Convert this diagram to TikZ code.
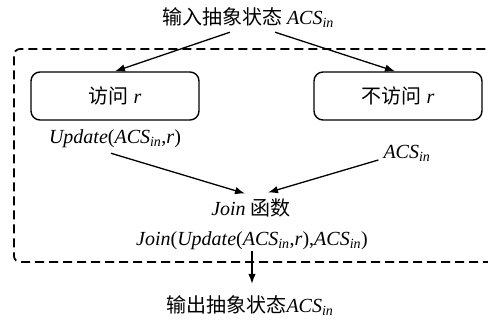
\documentclass[tikz,border=0pt]{standalone}
\usepackage{fontspec}
\setmainfont{Liberation Serif}
\newfontfamily\cjk{Noto Sans CJK SC}
\usetikzlibrary{arrows.meta}
\newcommand\ACSin{\textit{ACS}\textsubscript{\textit{in}}}
\begin{document}
\begin{tikzpicture}[x=1pt,y=-1pt, font=\fontsize{20}{24}\selectfont,
  arr/.style={-{Latex[length=10pt,width=7.5pt]}, line width=1.3pt},
  statebox/.style={draw, line width=1.4pt, rounded corners=9pt, minimum width=168pt, minimum height=48pt, inner sep=2pt},
  lbl/.style={inner sep=1pt},
  frame/.style={line width=1.7pt, dash pattern=on 9pt off 5pt, rounded corners=6pt}]
\useasboundingbox (0,0) rectangle (488,321);
\clip (0,0) rectangle (488,321);
\draw[frame] (520,262) -- (14,262) -- (14,49) -- (520,49);
\node[lbl] (in) at (248,18) {{\cjk 输入抽象状态} \ACSin};
\node[statebox] (v) at (115,96) {{\cjk 访问} \textit{r}};
\node[statebox] (nv) at (398,96) {{\cjk 不访问} \textit{r}};
\node[lbl] (upd) at (115,139) {\textit{Update}(\ACSin,\textit{r})};
\node[lbl] (acs) at (407,153) {\ACSin};
\node[lbl] (join) at (251,208) {\textit{Join} {\cjk 函数}};
\node[lbl] (jexpr) at (252,241) {\textit{Join}(\textit{Update}(\ACSin,\textit{r}),\ACSin)};
\node[lbl] (out) at (250,306) {{\cjk 输出抽象状态}\ACSin};
\draw[arr] ([shift={(-18,3)}]in.south) -- (v.north);
\draw[arr] ([shift={(27,3)}]in.south) -- ([shift={(-3,0)}]nv.north);
\draw[arr] ([shift={(-4,4)}]upd.south) -- ([shift={(-6,-4)}]join.north);
\draw[arr] ([shift={(-4,7)}]acs.west) -- ([shift={(17,-5)}]join.north);
\coordinate (outtip) at ([shift={(0,-11)}]out.north);
\draw[arr] (jexpr.south) -- (jexpr.south |- outtip);
\end{tikzpicture}
\end{document}
